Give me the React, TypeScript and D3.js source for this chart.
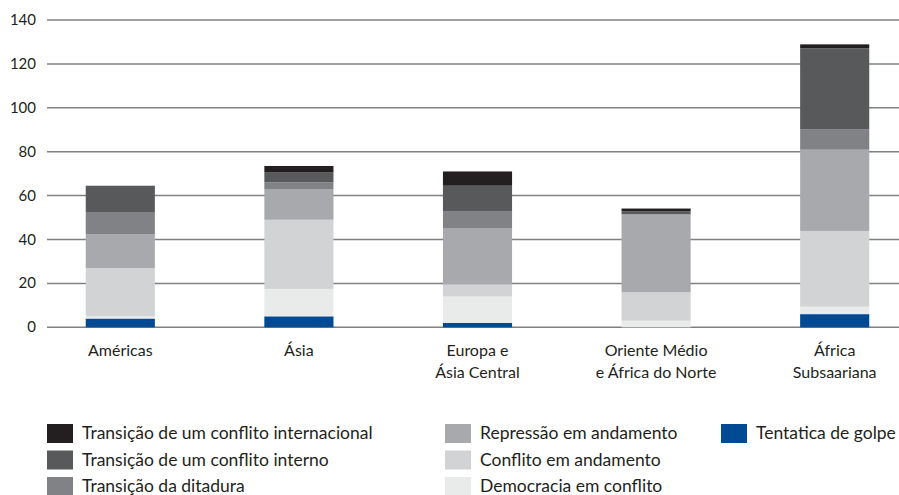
import React, { useEffect, useRef } from 'react';
import * as d3 from 'd3';

// regions on the x axis (line breaks with \n)
const regions = [
  'Américas',
  'Ásia',
  'Europa e\nÁsia Central',
  'Oriente Médio\ne África do Norte',
  'África\nSubsaariana',
];

// stacked series, bottom to top
const golpe = [4, 5, 2, 0, 6];
const democracia = [1, 12.5, 12, 3, 3.4];
const conflito = [22, 31.5, 5.5, 13, 34.5];
const repressao = [15.5, 14, 25.5, 35.5, 37];
const ditadura = [10, 3, 8, 0, 9.2];
const interno = [12, 4.5, 11.5, 1.3, 37];
const internacional = [0, 3, 6.5, 1.3, 1.8];

const seriesKeys = ['golpe', 'democracia', 'conflito', 'repressao', 'ditadura', 'interno', 'internacional'];
const seriesLabels = {
  internacional: 'Transição de um conflito internacional',
  interno: 'Transição de um conflito interno',
  ditadura: 'Transição da ditadura',
  repressao: 'Repressão em andamento',
  conflito: 'Conflito em andamento',
  democracia: 'Democracia em conflito',
  golpe: 'Tentatica de golpe',
};
const colors = {
  golpe: '#004a93',
  democracia: '#e9ebea',
  conflito: '#d1d3d4',
  repressao: '#a7a9ac',
  ditadura: '#808285',
  interno: '#58595b',
  internacional: '#231f20',
};
// legend columns
const legendColumns = [
  ['internacional', 'interno', 'ditadura'],
  ['repressao', 'conflito', 'democracia'],
  ['golpe'],
];

const yTicks = [0, 20, 40, 60, 80, 100, 120, 140];

function App() {
  const svgRef = useRef(null);

  useEffect(() => {
    const svg = d3.select(svgRef.current);
    svg.selectAll('*').remove();
    const font = 'Lato, "Open Sans", sans-serif';

    const table = regions.map((r, i) => ({
      region: r,
      golpe: golpe[i],
      democracia: democracia[i],
      conflito: conflito[i],
      repressao: repressao[i],
      ditadura: ditadura[i],
      interno: interno[i],
      internacional: internacional[i],
    }));

    const x = d3
      .scaleBand()
      .domain(regions)
      .range([31, 924])
      .paddingInner(0.613)
      .paddingOuter(0.3065);
    const y = d3.scaleLinear().domain([0, 140]).range([327.3, 20]);

    // grid + tick labels
    const grid = svg.append('g');
    grid
      .selectAll('line')
      .data(yTicks)
      .enter()
      .append('line')
      .attr('x1', 47)
      .attr('x2', 899)
      .attr('y1', (d) => y(d))
      .attr('y2', (d) => y(d))
      .attr('stroke', '#808080')
      .attr('stroke-width', 1.5);
    grid
      .selectAll('text')
      .data(yTicks)
      .enter()
      .append('text')
      .attr('x', 36)
      .attr('y', (d) => y(d) + 5)
      .attr('text-anchor', 'end')
      .attr('font-family', font)
      .attr('font-size', 15)
      .attr('fill', '#231f20')
      .text((d) => d);

    const stacked = d3.stack().keys(seriesKeys)(table);

    svg
      .append('g')
      .selectAll('g')
      .data(stacked)
      .enter()
      .append('g')
      .attr('fill', (s) => colors[s.key])
      .selectAll('rect')
      .data((s) => s)
      .enter()
      .append('rect')
      .attr('x', (d) => x(d.data.region))
      .attr('width', x.bandwidth())
      .attr('y', (d) => y(d[1]))
      .attr('height', (d) => Math.max(0, y(d[0]) - y(d[1])));

    // category labels
    const labels = svg.append('g');
    regions.forEach((r) => {
      const t = labels
        .append('text')
        .attr('x', x(r) + x.bandwidth() / 2)
        .attr('y', 356)
        .attr('text-anchor', 'middle')
        .attr('font-family', font)
        .attr('font-size', 16)
        .attr('fill', '#231f20');
      r.split('\n').forEach((line, i) => {
        t.append('tspan')
          .attr('x', x(r) + x.bandwidth() / 2)
          .attr('dy', i === 0 ? 0 : 22)
          .text(line);
      });
    });

    // legend
    const colX = [47, 445, 721];
    const legend = svg.append('g');
    legendColumns.forEach((col, ci) => {
      col.forEach((key, ri) => {
        const cy = 433.5 + ri * 26.5;
        legend
          .append('rect')
          .attr('x', colX[ci])
          .attr('y', cy - 9.5)
          .attr('width', 26)
          .attr('height', 19)
          .attr('fill', colors[key]);
        legend
          .append('text')
          .attr('x', colX[ci] + 35)
          .attr('y', cy + 5.5)
          .attr('font-family', font)
          .attr('font-size', 17.5)
          .attr('fill', '#231f20')
          .text(seriesLabels[key]);
      });
    });
  }, []);

  return (
    <svg
      ref={svgRef}
      width={899}
      height={495}
      style={{ position: 'absolute', left: 0, top: 0, background: '#fff' }}
    ></svg>
  );
}

export default App;
